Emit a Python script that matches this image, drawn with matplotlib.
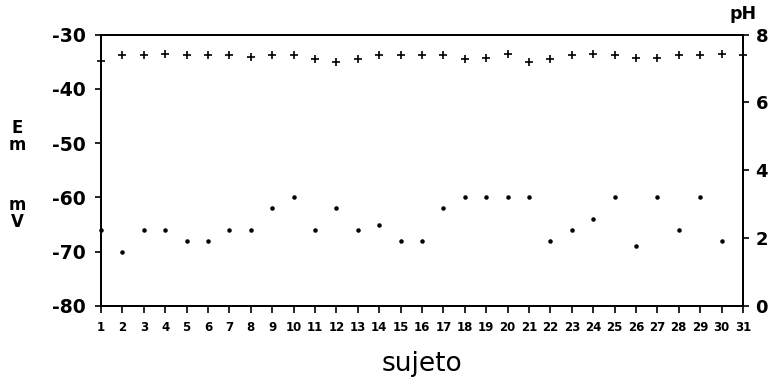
import numpy as np
import matplotlib
matplotlib.use("Agg")
import matplotlib.pyplot as plt

plt.rcParams['font.family'] = ['DejaVu Sans']
plt.rcParams['axes.unicode_minus'] = False

# data
subjects = list(range(1, 32))
em_mv = [-66, -70, -66, -66, -68, -68, -66, -66, -62, -60, -66, -62, -66, -65, -68, -68,
         -62, -60, -60, -60, -60, -68, -66, -64, -60, -69, -60, -66, -60, -68, np.nan]
ph = [7.22, 7.39, 7.41, 7.42, 7.39, 7.40, 7.40, 7.33, 7.39, 7.40, 7.29, 7.18, 7.29, 7.39,
      7.39, 7.39, 7.40, 7.29, 7.30, 7.42, 7.19, 7.29, 7.39, 7.42, 7.40, 7.31, 7.30, 7.40,
      7.41, 7.42, 7.40]
em_ticks = [-80, -70, -60, -50, -40, -30]
ph_ticks = [0, 2, 4, 6, 8]

fig = plt.figure(figsize=(7.72, 3.78), dpi=100)
ax = fig.add_axes([0.1308, 0.1905, 0.8316, 0.7182])
ax2 = ax.twinx()

ax.scatter(subjects, em_mv, s=5, color='black', zorder=3, clip_on=False)
ax2.scatter(subjects, ph, s=40, marker='+', color='black', linewidths=1.2, zorder=3, clip_on=False)

ax.set_xlim(1, 31)
ax.set_ylim(-80, -30)
ax2.set_ylim(0, 8)
ax.set_xticks(subjects)
ax.set_xticklabels([str(s) for s in subjects], fontsize=8.5, fontweight='bold')
ax.set_yticks(em_ticks)
ax.set_yticklabels([str(t) for t in em_ticks], fontsize=13.5, fontweight='bold')
ax2.set_yticks(ph_ticks)
ax2.set_yticklabels([str(t) for t in ph_ticks], fontsize=13, fontweight='bold')

for a in (ax, ax2):
    for sp in a.spines.values():
        sp.set_linewidth(1.3)
    a.tick_params(direction='out', length=4, width=1.2, colors='black')
ax.tick_params(axis='y', pad=7)
ax.tick_params(axis='x', pad=6, length=5)
ax2.tick_params(axis='y', pad=5)

ax.set_xlabel('sujeto', fontsize=19, labelpad=12)

fig.text(0.022, 0.638, 'E\nm', fontsize=12, fontweight='bold', ha='center', va='center', linespacing=0.95)
fig.text(0.022, 0.436, 'm\nV', fontsize=12, fontweight='bold', ha='center', va='center', linespacing=0.95)
fig.text(0.962, 0.963, 'pH', fontsize=12.5, fontweight='bold', ha='center', va='center')

fig.savefig('out.png', dpi=100)
